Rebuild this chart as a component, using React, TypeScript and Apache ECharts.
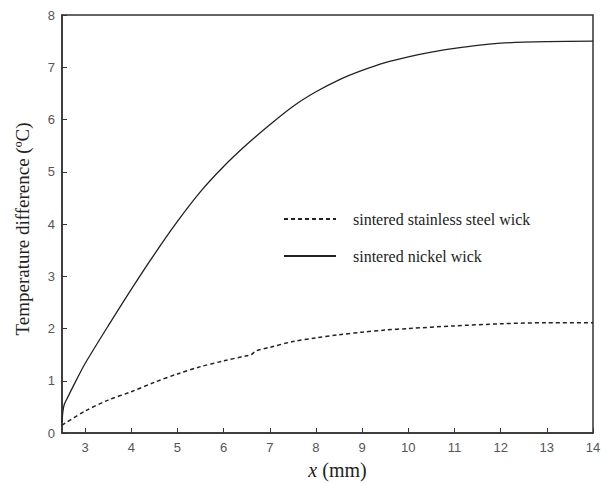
import React, { useEffect, useRef } from "react";
import * as echarts from "echarts";

const nickelX = [2.5, 2.52, 2.55, 2.6, 2.7, 2.85, 3.0, 3.5, 4.0, 4.5, 5.0, 5.5, 6.0, 6.5, 7.0, 7.5, 8.0, 8.5, 9.0, 9.5, 10.0, 10.5, 11.0, 11.5, 12.0, 12.5, 13.0, 14.0];
const nickelY = [0.2, 0.42, 0.55, 0.64, 0.82, 1.08, 1.33, 2.05, 2.75, 3.42, 4.05, 4.62, 5.1, 5.52, 5.9, 6.25, 6.53, 6.76, 6.94, 7.09, 7.2, 7.29, 7.36, 7.42, 7.46, 7.48, 7.49, 7.5];

const steelX = [2.5, 3.0, 3.5, 4.0, 4.5, 5.0, 5.5, 6.0, 6.5, 6.6, 6.7, 7.0, 7.5, 8.0, 8.5, 9.0, 9.5, 10.0, 11.0, 12.0, 13.0, 14.0];
const steelY = [0.15, 0.42, 0.63, 0.79, 0.97, 1.13, 1.27, 1.38, 1.48, 1.5, 1.57, 1.64, 1.75, 1.82, 1.88, 1.93, 1.97, 2.0, 2.05, 2.09, 2.11, 2.11];

const xTicks = [3, 4, 5, 6, 7, 8, 9, 10, 11, 12, 13, 14];
const seriesNames = ["sintered stainless steel wick", "sintered nickel wick"];

const serif = "'Liberation Serif', 'Times New Roman', serif";
const sans = "'Liberation Sans', Arial, sans-serif";

export default function App() {
  const ref = useRef<HTMLDivElement>(null);
  useEffect(() => {
    if (!ref.current) return;
    const chart = echarts.init(ref.current, null, { renderer: "svg" });
    const zip = (xs: number[], ys: number[]) => xs.map((x, i) => [x, ys[i]]);
    chart.setOption({
      animation: false,
      backgroundColor: "#fff",
      grid: {
        left: 62,
        top: 15,
        right: 15,
        bottom: 50,
        show: true,
        borderColor: "#333",
        borderWidth: 1.5,
        containLabel: false,
        outerBoundsMode: "none",
      },
      legend: {
        orient: "vertical",
        left: 278,
        top: 206,
        itemWidth: 52,
        itemHeight: 10,
        itemGap: 21,
        data: seriesNames,
        itemStyle: { opacity: 0 },
        textStyle: {
          fontFamily: serif,
          fontSize: 16,
          color: "#222",
          padding: [0, 0, 0, 12],
        },
      },
      xAxis: {
        type: "value",
        min: 2.5,
        max: 14,
        name: "{i|x} (mm)",
        nameLocation: "middle",
        nameGap: 27,
        nameTextStyle: {
          fontFamily: serif,
          fontSize: 20,
          color: "#222",
          padding: [0, 0, 0, 20],
          rich: {
            i: { fontFamily: serif, fontSize: 20, fontStyle: "italic", color: "#222" },
          },
        },
        axisLine: { show: true, lineStyle: { color: "#333", width: 1.5 } },
        axisTick: {
          show: true,
          inside: true,
          length: 5,
          customValues: xTicks,
          lineStyle: { color: "#333", width: 1 },
        },
        axisLabel: {
          customValues: xTicks,
          fontFamily: sans,
          fontSize: 13,
          color: "#555",
          margin: 8,
        },
        splitLine: { show: false },
      },
      yAxis: {
        type: "value",
        min: 0,
        max: 8,
        interval: 1,
        name: "Temperature difference (ºC)",
        nameLocation: "middle",
        nameGap: 30,
        nameTextStyle: {
          fontFamily: serif,
          fontSize: 19,
          color: "#222",
          padding: [0, 10, 0, 0],
        },
        axisLine: { show: true, lineStyle: { color: "#333", width: 1.5 } },
        axisTick: {
          show: true,
          inside: true,
          length: 5,
          lineStyle: { color: "#333", width: 1 },
        },
        axisLabel: {
          fontFamily: sans,
          fontSize: 13,
          color: "#555",
          margin: 7,
        },
        splitLine: { show: false },
      },
      series: [
        {
          name: seriesNames[0],
          type: "line",
          data: zip(steelX, steelY),
          showSymbol: false,
          symbol: "none",
          smooth: 0.3,
          lineStyle: { color: "#222", width: 1.5, type: [4, 3] },
          itemStyle: { color: "#222" },
        },
        {
          name: seriesNames[1],
          type: "line",
          data: zip(nickelX, nickelY),
          showSymbol: false,
          symbol: "none",
          smooth: 0.3,
          lineStyle: { color: "#222", width: 1.3, type: "solid" },
          itemStyle: { color: "#222" },
        },
      ],
    });
    return () => chart.dispose();
  }, []);
  return (
    <div
      ref={ref}
      style={{ position: "fixed", left: 0, top: 0, width: 608, height: 483 }}
    />
  );
}
